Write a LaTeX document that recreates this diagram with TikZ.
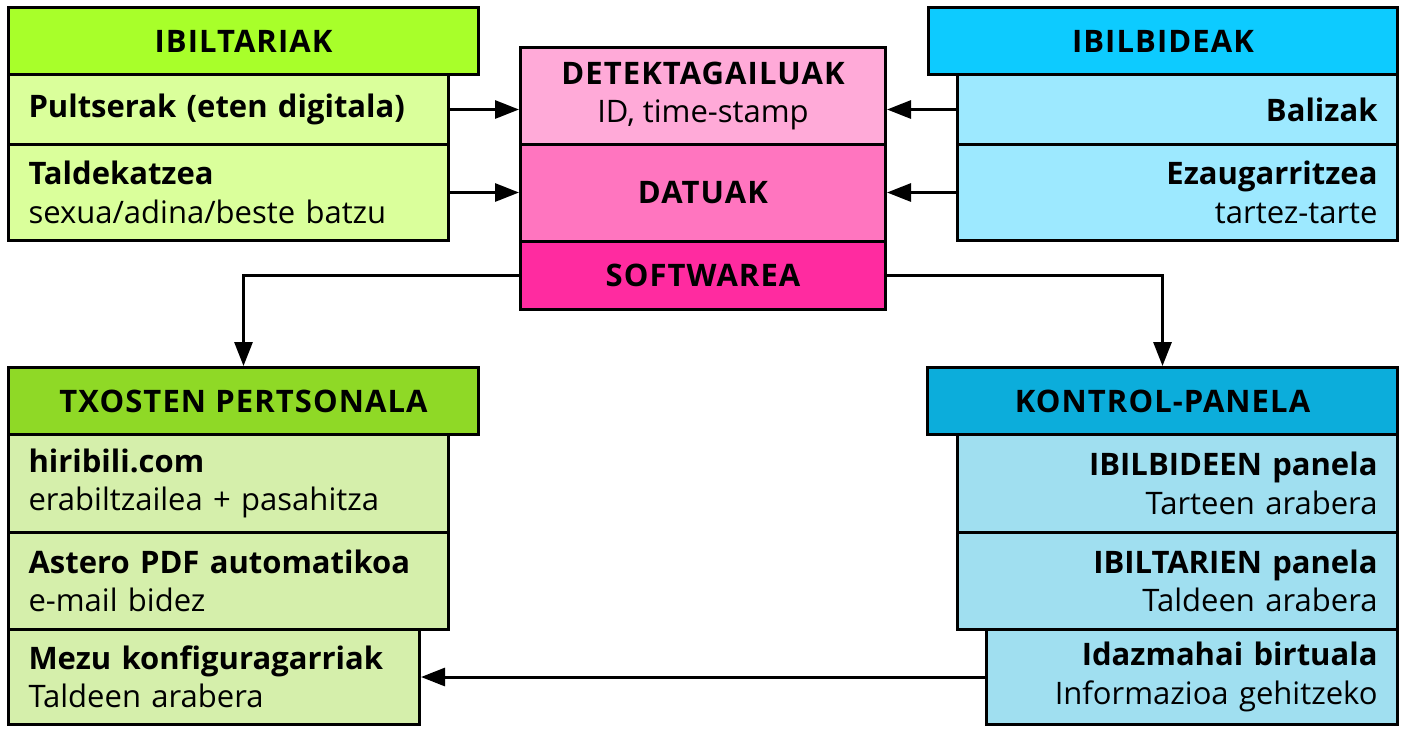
\documentclass[tikz,border=0pt]{standalone}
\usepackage{fontspec}
\setmainfont{Open Sans}
\usetikzlibrary{arrows.meta}
\definecolor{ibH}{HTML}{A8FF2A}
\definecolor{ibR}{HTML}{DAFF9B}
\definecolor{detC}{HTML}{FFAAD8}
\definecolor{datC}{HTML}{FF75BF}
\definecolor{softC}{HTML}{FF2BA0}
\definecolor{rbH}{HTML}{0DCBFF}
\definecolor{rbR}{HTML}{9DE9FF}
\definecolor{txH}{HTML}{8FD926}
\definecolor{txR}{HTML}{D5EFAB}
\definecolor{kpH}{HTML}{0CADDB}
\definecolor{kpR}{HTML}{A0DFF0}
\newcommand{\hdtext}[1]{{\bfseries\addfontfeature{LetterSpace=3.5}#1}}
\tikzset{
  box/.style={draw=black, line width=3pt, inner sep=0pt, anchor=north west,
    font=\fontsize{31}{38.5}\selectfont},
  lbox/.style={box, align=left},
  rbox/.style={box, align=right},
  cbox/.style={box, align=center},
  arr/.style={line width=3pt, -{Triangle[length=24pt,width=18pt]}},
}
\begin{document}
\begin{tikzpicture}[x=1pt,y=-1pt]
\useasboundingbox[fill=white] (0,0) rectangle (1402,729);
% left top
\node[lbox, fill=ibR, minimum width=440pt, minimum height=70pt, text width=400pt] (ib1) at (7,73) {\textbf{Pultserak (eten digitala)}};
\node[lbox, fill=ibR, minimum width=440pt, minimum height=96pt, text width=400pt] (ib2) at (7,143) {\textbf{Taldekatzea}\\sexua/adina/beste batzu};
\node[cbox, fill=ibH, minimum width=470pt, minimum height=67pt] (ibh) at (7,6) {\hdtext{IBILTARIAK}};
% center
\node[cbox, fill=detC, minimum width=365pt, minimum height=97pt] (det) at (519,46) {\hdtext{DETEKTAGAILUAK}\\ID, time-stamp};
\node[cbox, fill=datC, minimum width=365pt, minimum height=97pt] (dat) at (519,143) {\hdtext{DATUAK}};
\node[cbox, fill=softC, minimum width=365pt, minimum height=68pt] (soft) at (519,240) {\hdtext{SOFTWAREA}};
% right top
\node[rbox, fill=rbR, minimum width=440pt, minimum height=70pt, text width=400pt] (rb1) at (956,73) {\textbf{Balizak}};
\node[rbox, fill=rbR, minimum width=440pt, minimum height=96pt, text width=400pt] (rb2) at (956,143) {\textbf{Ezaugarritzea}\\tartez-tarte};
\node[cbox, fill=rbH, minimum width=469pt, minimum height=67pt] (rbh) at (927,6) {\hdtext{IBILBIDEAK}};
% bottom left
\node[lbox, fill=txR, minimum width=440pt, minimum height=98pt, text width=400pt] (tx1) at (7,433) {\textbf{hiribili.com}\\erabiltzailea + pasahitza};
\node[lbox, fill=txR, minimum width=440pt, minimum height=97pt, text width=400pt] (tx2) at (7,531) {\textbf{Astero PDF automatikoa}\\e-mail bidez};
\node[lbox, fill=txR, minimum width=411pt, minimum height=95pt, text width=371pt] (tx3) at (7,628) {\textbf{Mezu konfiguragarriak}\\Taldeen arabera};
\node[cbox, fill=txH, minimum width=470pt, minimum height=67pt] (txh) at (7,366) {\hdtext{TXOSTEN PERTSONALA}};
% bottom right
\node[rbox, fill=kpR, minimum width=440pt, minimum height=98pt, text width=400pt] (kp1) at (956,433) {\textbf{IBILBIDEEN panela}\\Tarteen arabera};
\node[rbox, fill=kpR, minimum width=440pt, minimum height=97pt, text width=400pt] (kp2) at (956,531) {\textbf{IBILTARIEN panela}\\Taldeen arabera};
\node[rbox, fill=kpR, minimum width=411pt, minimum height=95pt, text width=371pt] (kp3) at (985,628) {\textbf{Idazmahai birtuala}\\Informazioa gehitzeko};
\node[cbox, fill=kpH, minimum width=470pt, minimum height=67pt] (kph) at (926,366) {\hdtext{KONTROL-PANELA}};
% connectors
\draw[arr] (ib1.east) -- (ib1.east -| det.west);
\draw[arr] (ib2.east) -- (ib2.east -| det.west);
\draw[arr] (rb1.west) -- (rb1.west -| det.east);
\draw[arr] (rb2.west) -- (rb2.west -| det.east);
\draw[arr] (soft.west) -| (txh.north);
\draw[arr] (soft.east) -| (kph.north);
\draw[arr] (kp3.west) -- (kp3.west -| tx3.east);
\end{tikzpicture}
\end{document}
